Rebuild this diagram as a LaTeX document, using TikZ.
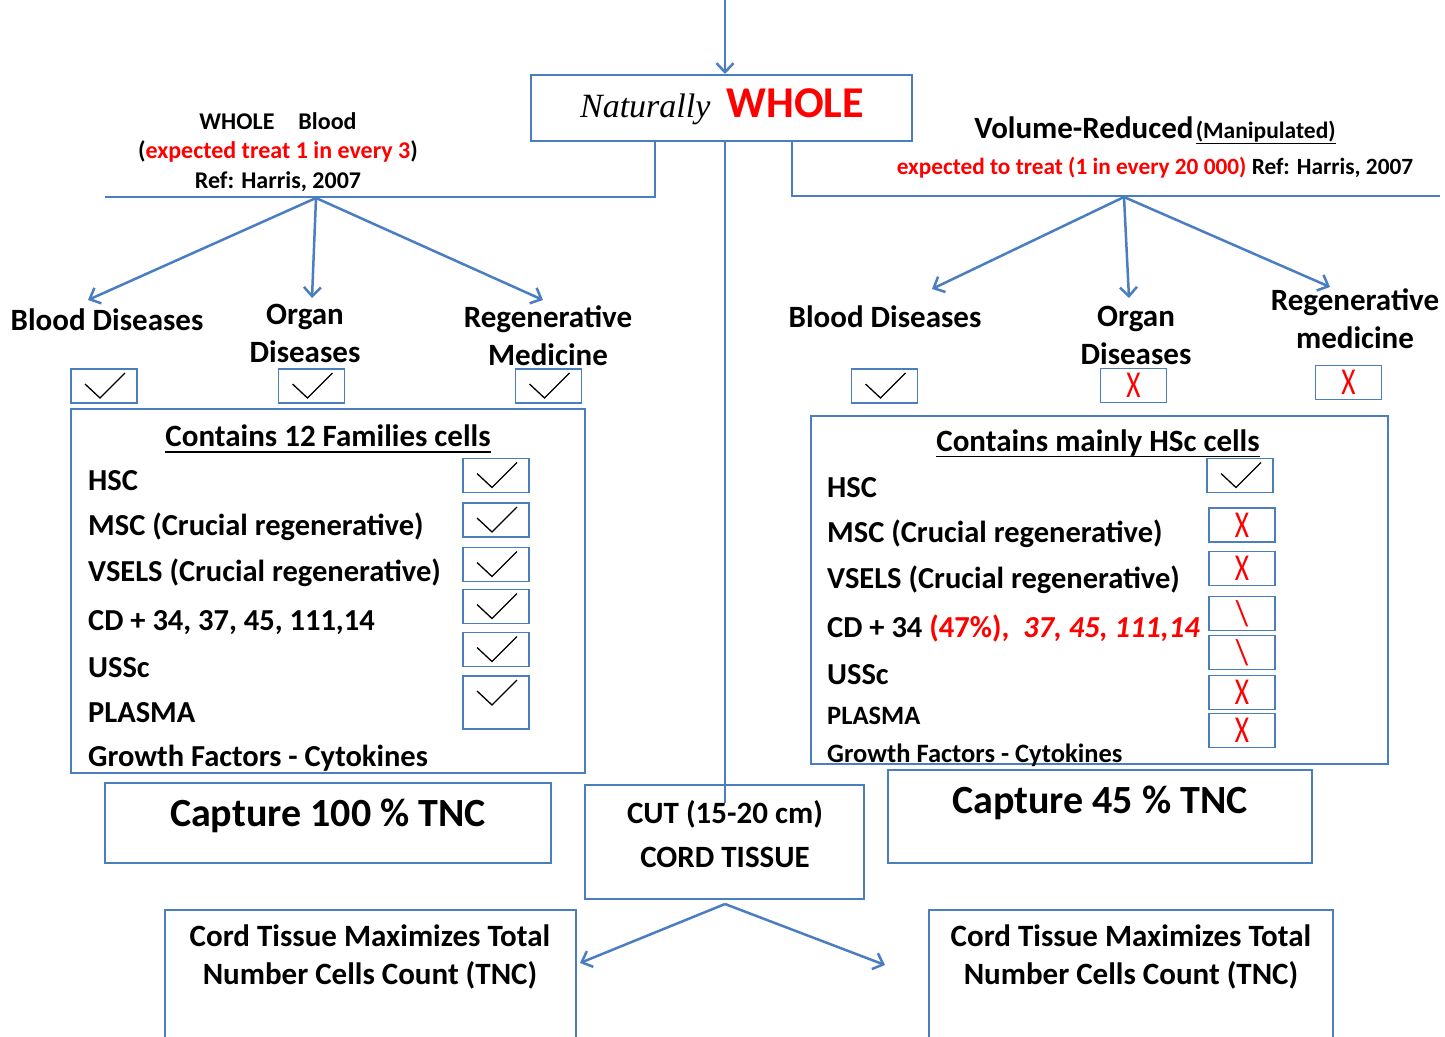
\documentclass[tikz,border=0pt]{standalone}
\usepackage{fontspec}
\setmainfont{Carlito}
\newfontfamily\timesf{Liberation Serif}
\usetikzlibrary{arrows.meta}
\definecolor{lblue}{RGB}{74,126,193}
\definecolor{myred}{RGB}{255,0,0}
\newcommand\redx{\scalebox{0.72}[1.0]{\fontsize{38}{38}\selectfont X}}
\newcommand\redbs{\scalebox{0.9}[1.0]{\fontsize{36}{36}\selectfont\textbackslash}}
\begin{document}
\begin{tikzpicture}[x=1pt,y=-1pt,
  ln/.style={draw=lblue, line width=2.5pt},
  arr/.style={ln, -{Straight Barb[length=9pt,width=17pt]}},
  bigbox/.style={draw=lblue, line width=2.5pt, inner sep=0},
  ckb/.style={draw=lblue, line width=1.8pt, minimum width=66pt, minimum height=34pt, inner sep=0},
  tick/.style={ckb, path picture={\draw[black, line width=1.3pt]
      ([xshift=-19pt,yshift=-15pt]path picture bounding box.north) --
      ([xshift=-4pt,yshift=-29pt]path picture bounding box.north) --
      ([xshift=21pt,yshift=-4pt]path picture bounding box.north);}},
  cross/.style={ckb, text=myred, font=\mdseries},
  lab/.style={font=\fontsize{31}{38}\selectfont\bfseries, align=center, inner sep=0},
  item/.style={font=\fontsize{30.5}{34}\selectfont\bfseries, anchor=base west, inner sep=0},
  hdr/.style={font=\fontsize{24}{29.5}\selectfont\bfseries, align=center, inner sep=0},
  big/.style={font=\fontsize{40}{44}\selectfont\bfseries, align=center, inner sep=0}
]
\useasboundingbox[fill=white] (0,0) rectangle (1445,1036);

% top box
\node[bigbox, minimum width=381pt, minimum height=66pt] (whole) at (721.5,108) {};
\node[inner sep=0] (wholetxt) at (722,107) {{\timesf\itshape\fontsize{34}{40}\selectfont Naturally}\hspace{16pt}{\color{myred}\bfseries\fontsize{44}{48}\selectfont WHOLE}};
\coordinate (topin) at (725,0);
\draw[arr] (topin) -- (725,74);

% branches
\coordinate (lcorner) at (655,197);
\coordinate (lend) at (105,197);
\coordinate (rcorner) at (792,196);
\coordinate (rend) at (1440,196);
\draw[ln] (655,141) -- (lcorner) -- (lend);
\draw[ln] (792,141) -- (rcorner) -- (rend);
\coordinate (cutin) at (725,803);
\draw[ln] (725,141) -- (cutin);

% headers
\node[hdr] (lhdr) at (278,152) {WHOLE\quad Blood\\({\color{myred}expected treat 1 in every 3})\\Ref: Harris, 2007};
\node[inner sep=0, font=\bfseries] (rhdr1) at (1155,130) {{\fontsize{31}{36}\selectfont Volume-Reduced} {\fontsize{23.5}{25}\selectfont\underline{(Manipulated)}}};
\node[hdr, font=\fontsize{23.3}{29.5}\selectfont\bfseries] (rhdr2) at (1155,168) {{\color{myred}expected to treat (1 in every 20 000)} Ref: Harris, 2007};

% left fan
\coordinate (la) at (316,198);
\coordinate (la1) at (88,300);
\coordinate (la2) at (312,298);
\coordinate (la3) at (543,300);
\draw[arr] (la) -- (la1);
\draw[arr] (la) -- (la2);
\draw[arr] (la) -- (la3);
% right fan
\coordinate (ra) at (1124,197);
\coordinate (ra1) at (932,289);
\coordinate (ra2) at (1129,298);
\coordinate (ra3) at (1330,287);
\draw[arr] (ra) -- (ra1);
\draw[arr] (ra) -- (ra2);
\draw[arr] (ra) -- (ra3);

% labels
\node[lab] (bd1) at (107,320) {Blood Diseases};
\node[lab] (od1) at (305,333) {Organ\\Diseases};
\node[lab] (rm1) at (548,336) {Regenerative\\Medicine};
\node[lab] (bd2) at (885,317) {Blood Diseases};
\node[lab] (od2) at (1136,335) {Organ\\Diseases};
\node[lab] (rm2) at (1355,318.5) {Regenerative\\medicine};

% top check boxes
\node[tick] (c1) at (104,386) {};
\node[tick] (c2) at (311.5,386) {};
\node[tick] (c3) at (548.5,386) {};
\node[tick] (c4) at (884.5,386) {};
\node[cross] (c5) at (1133.5,385.5) {\redx};
\node[cross] (c6) at (1348.5,382.5) {\redx};

% left big box
\node[bigbox, minimum width=514pt, minimum height=364pt] (lbox) at (328,591) {};
\node[inner sep=0, font=\fontsize{31}{34}\selectfont\bfseries] (t1) at (328,436) {Contains 12 Families cells};
\draw[black, line width=1.6pt] ([yshift=-5pt]t1.base west) -- ([yshift=-5pt]t1.base east);
\node[item] (l1) at (88,490) {HSC};
\node[item] (l2) at (88,535) {MSC (Crucial regenerative)};
\node[item] (l3) at (88,581) {VSELS (Crucial regenerative)};
\node[item] (l4) at (88,630) {CD + 34, 37, 45, 111,14};
\node[item] (l5) at (88,677) {USSc};
\node[item] (l6) at (88,722) {PLASMA};
\node[item] (l7) at (88,766) {Growth Factors - Cytokines};
\node[tick] (lk1) at (496,475.5) {};
\node[tick] (lk2) at (496,520) {};
\node[tick] (lk3) at (496,564.5) {};
\node[tick] (lk4) at (496,606.5) {};
\node[tick] (lk5) at (496,649.5) {};
\node[tick, minimum height=53pt] (lk6) at (496,702.5) {};

% right big box
\node[bigbox, minimum width=577pt, minimum height=348pt] (rbox) at (1099.5,590) {};
\node[inner sep=0, font=\fontsize{31}{34}\selectfont\bfseries] (t2) at (1098,443) {Contains mainly HSc cells};
\draw[black, line width=1.6pt] ([yshift=-5pt]t2.base west) -- ([yshift=-5pt]t2.base east);
\node[item] (r1) at (827,497) {HSC};
\node[item] (r2) at (827,542) {MSC (Crucial regenerative)};
\node[item] (r3) at (827,588) {VSELS (Crucial regenerative)};
\node[item] (r4) at (827,637) {CD + 34 {\color{myred}(47\%),} {\color{myred}\itshape\ 37, 45, 111,14}};
\node[item] (r5) at (827,684) {USSc};
\node[item, font=\fontsize{26.5}{30}\selectfont\bfseries] (r6) at (827,724) {PLASMA};
\node[item, font=\fontsize{26.5}{30}\selectfont\bfseries] (r7) at (827,762) {Growth Factors - Cytokines};
\node[tick] (rk1) at (1240,475.5) {};
\node[cross] (rk2) at (1242,525) {\redx};
\node[cross] (rk3) at (1242,568.5) {\redx};
\node[cross] (rk4) at (1242,613.5) {\redbs};
\node[cross] (rk5) at (1242,652.5) {\redbs};
\node[cross] (rk6) at (1242,692.5) {\redx};
\node[cross] (rk7) at (1242,730.5) {\redx};

% capture boxes
\node[bigbox, minimum width=446pt, minimum height=80pt] (cap1) at (328,823) {};
\node[big] (cap1t) at (328,816) {Capture 100 \% TNC};
\node[bigbox, minimum width=424pt, minimum height=93pt] (cap2) at (1100,816.5) {};
\node[big] (cap2t) at (1100,803) {Capture 45 \% TNC};

% cut box
\node[bigbox, minimum width=279pt, minimum height=114pt] (cut) at (724.5,842) {};
\node[inner sep=0, align=center, font=\fontsize{31}{44}\selectfont\bfseries] (cutt) at (725,834) {CUT (15-20 cm)\\CORD TISSUE};

% bottom fan
\coordinate (ca) at (725,904);
\coordinate (ca1) at (580,963);
\coordinate (ca2) at (885,965);
\draw[arr] (ca) -- (ca1);
\draw[arr] (ca) -- (ca2);

% bottom boxes
\node[bigbox, minimum width=411pt, minimum height=140pt] (bl) at (370.5,980) {};
\node[lab] (blt) at (370,957) {Cord Tissue Maximizes Total\\Number Cells Count (TNC)};
\node[bigbox, minimum width=404pt, minimum height=140pt] (br) at (1131,980) {};
\node[lab] (brt) at (1131,957) {Cord Tissue Maximizes Total\\Number Cells Count (TNC)};
\end{tikzpicture}
\end{document}
